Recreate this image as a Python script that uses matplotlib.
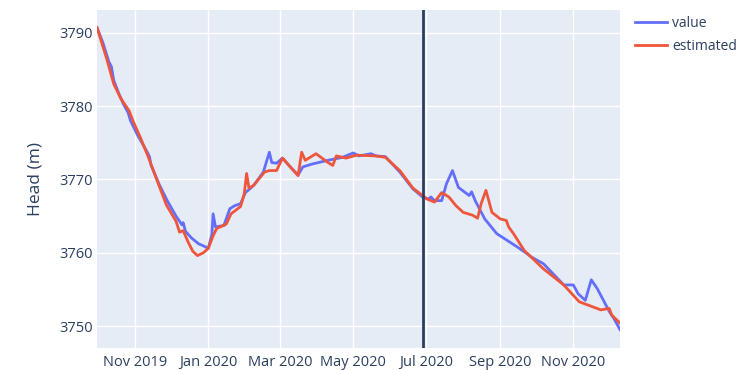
import pandas as pd
import matplotlib.pyplot as plt
import matplotlib.dates as mdates

# Observed head (value)
value_dates = [
    '2019-09-30', '2019-10-05', '2019-10-10', '2019-10-12', '2019-10-14', '2019-10-18',
    '2019-10-22', '2019-10-26', '2019-10-28', '2019-11-03', '2019-11-10', '2019-11-12',
    '2019-11-13', '2019-11-14', '2019-11-21', '2019-11-28', '2019-12-05', '2019-12-10',
    '2019-12-11', '2019-12-13', '2019-12-18', '2019-12-24', '2019-12-27', '2020-01-01',
    '2020-01-04', '2020-01-05', '2020-01-07', '2020-01-10', '2020-01-14', '2020-01-19',
    '2020-01-23', '2020-01-28', '2020-02-01', '2020-02-04', '2020-02-08', '2020-02-16',
    '2020-02-21', '2020-02-23', '2020-02-27', '2020-03-03', '2020-03-10', '2020-03-16',
    '2020-03-20', '2020-03-28', '2020-04-10', '2020-04-16', '2020-04-22', '2020-05-01',
    '2020-05-06', '2020-05-16', '2020-05-20', '2020-05-28', '2020-06-09', '2020-06-20',
    '2020-06-28', '2020-07-03', '2020-07-05', '2020-07-08', '2020-07-14', '2020-07-18',
    '2020-07-23', '2020-07-28', '2020-08-06', '2020-08-08', '2020-08-11', '2020-08-19',
    '2020-08-29', '2020-09-15', '2020-09-23', '2020-09-27', '2020-10-07', '2020-10-24',
    '2020-11-01', '2020-11-05', '2020-11-11', '2020-11-16', '2020-11-21', '2020-12-01',
    '2020-12-05', '2020-12-10',
]
value = [
    3790.7, 3788.6, 3786.0, 3785.4, 3783.5, 3781.8,
    3780.3, 3779.1, 3778.0, 3776.0, 3774.0, 3773.4,
    3773.0, 3772.0, 3769.3, 3767.0, 3765.0, 3763.8,
    3764.1, 3762.9, 3762.0, 3761.2, 3761.0, 3760.6,
    3762.5, 3765.3, 3763.5, 3763.6, 3763.7, 3766.0,
    3766.4, 3766.7, 3768.2, 3768.6, 3769.2, 3771.0,
    3773.7, 3772.3, 3772.2, 3772.9, 3771.6, 3770.6,
    3771.7, 3772.1, 3772.6, 3772.8, 3773.0, 3773.6,
    3773.2, 3773.5, 3773.2, 3773.1, 3771.0, 3768.7,
    3767.6, 3767.3, 3767.6, 3767.1, 3767.1, 3769.4,
    3771.2, 3768.9, 3767.8, 3768.3, 3767.1, 3764.6,
    3762.6, 3760.8, 3759.9, 3759.4, 3758.5, 3755.6,
    3755.6, 3754.4, 3753.5, 3756.3, 3755.1, 3752.0,
    3751.0, 3749.5,
]

# Model estimate
est_dates = [
    '2019-09-30', '2019-10-08', '2019-10-14', '2019-10-20', '2019-10-25', '2019-10-27',
    '2019-10-30', '2019-11-05', '2019-11-10', '2019-11-12', '2019-11-20', '2019-11-27',
    '2019-12-05', '2019-12-08', '2019-12-11', '2019-12-15', '2019-12-19', '2019-12-23',
    '2019-12-28', '2020-01-01', '2020-01-05', '2020-01-08', '2020-01-12', '2020-01-16',
    '2020-01-20', '2020-01-28', '2020-01-31', '2020-02-02', '2020-02-04', '2020-02-08',
    '2020-02-17', '2020-02-21', '2020-02-27', '2020-03-03', '2020-03-16', '2020-03-19',
    '2020-03-22', '2020-03-31', '2020-04-10', '2020-04-14', '2020-04-17', '2020-04-25',
    '2020-05-04', '2020-05-20', '2020-05-28', '2020-06-09', '2020-06-20', '2020-06-28',
    '2020-07-02', '2020-07-08', '2020-07-14', '2020-07-20', '2020-07-26', '2020-08-01',
    '2020-08-09', '2020-08-13', '2020-08-16', '2020-08-20', '2020-08-25', '2020-09-01',
    '2020-09-06', '2020-09-08', '2020-09-12', '2020-09-21', '2020-10-07', '2020-10-24',
    '2020-11-06', '2020-11-24', '2020-12-01', '2020-12-03', '2020-12-10',
]
estimated = [
    3790.7, 3786.5, 3783.0, 3781.0, 3779.8, 3779.3,
    3778.0, 3775.8, 3773.8, 3773.0, 3769.5, 3766.5,
    3764.3, 3762.8, 3763.0, 3761.5, 3760.2, 3759.6,
    3760.0, 3760.6, 3762.3, 3763.3, 3763.6, 3763.9,
    3765.3, 3766.3, 3768.0, 3770.8, 3768.8, 3769.2,
    3771.0, 3771.2, 3771.2, 3772.9, 3770.5, 3773.7,
    3772.6, 3773.5, 3772.3, 3771.9, 3773.2, 3772.9,
    3773.3, 3773.2, 3773.0, 3771.2, 3768.8, 3767.8,
    3767.3, 3766.9, 3768.2, 3767.6, 3766.4, 3765.5,
    3765.1, 3764.7, 3766.7, 3768.5, 3765.5, 3764.6,
    3764.4, 3763.5, 3762.6, 3760.3, 3757.8, 3755.6,
    3753.3, 3752.2, 3752.4, 3751.5, 3750.4,
]

split_date = '2020-06-28'

plt.rcParams['font.family'] = ['Open Sans', 'DejaVu Sans']
text_color = '#2a3f5f'

fig = plt.figure(figsize=(7.38, 3.70), dpi=100)
ax = fig.add_axes([97 / 738, 1 - 348 / 370, 523 / 738, 338 / 370])
ax.set_facecolor('#E5ECF6')

ax.plot(pd.to_datetime(value_dates), value, color='#636EFA', lw=2, label='value')
ax.plot(pd.to_datetime(est_dates), estimated, color='#EF553B', lw=2, label='estimated')
ax.axvline(pd.Timestamp(split_date), color='#2a3f5f', lw=2)

ax.set_xlim(pd.Timestamp(value_dates[0]), pd.Timestamp(value_dates[-1]))
ax.set_ylim(3747.0, 3793.1)
ax.set_yticks([3750, 3760, 3770, 3780, 3790])
ax.xaxis.set_major_locator(mdates.MonthLocator(bymonth=[1, 3, 5, 7, 9, 11]))
ax.xaxis.set_major_formatter(mdates.DateFormatter('%b %Y'))

ax.grid(True, color='white', lw=1)
ax.set_axisbelow(True)
for s in ax.spines.values():
    s.set_visible(False)
ax.tick_params(length=0, labelsize=10.5, labelcolor=text_color)
ax.tick_params(axis='x', pad=5)
ax.tick_params(axis='y', pad=3)
ax.set_ylabel('Head (m)', fontsize=12.5, color=text_color, labelpad=11)

ax.legend(loc='upper left', bbox_to_anchor=(635 / 738, 1 - 16 / 370),
          bbox_transform=fig.transFigure, frameon=False, fontsize=10,
          handlelength=2.3, labelspacing=0.55, handletextpad=0.4,
          borderpad=0, borderaxespad=0, labelcolor=text_color)

plt.savefig('out.png', dpi=100)
